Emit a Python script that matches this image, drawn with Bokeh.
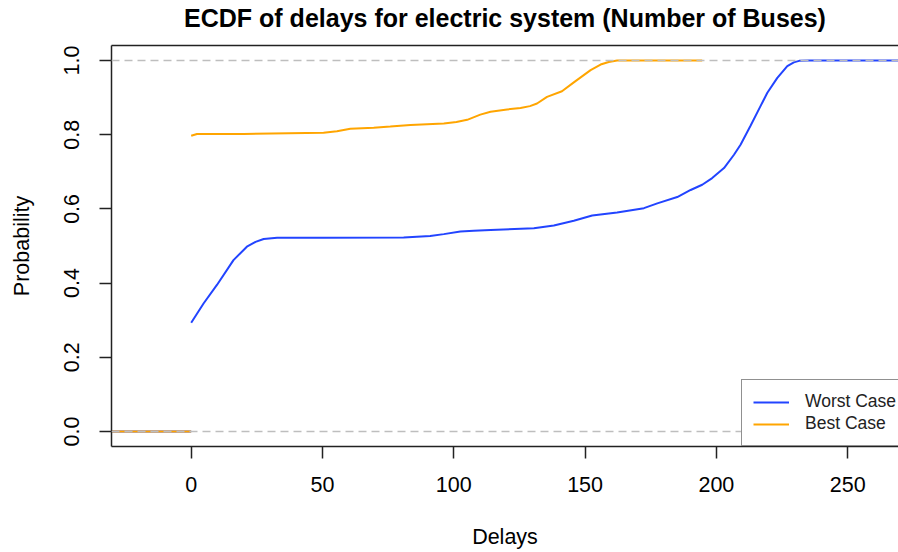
from bokeh.plotting import figure
from bokeh.models import (Range1d, FixedTicker, LinearAxis, Span, Legend, LegendItem)
from bokeh.embed import file_html
from bokeh.resources import INLINE

# ---- data ----
worst_x = [0, 4.7, 9.8, 16.1, 21.2, 24.5, 27.6, 32.7, 50, 80.9, 91, 96.2, 102.5,
           107.6, 114, 130.5, 138.1, 145.7, 152.7, 162.2, 172.4, 177.5, 185.1,
           190.2, 194.6, 198.4, 202.9, 206.7, 209.2, 213.0, 216.8, 219.4, 223.2,
           227.0, 229.5, 231.5, 235, 280]
worst_y = [0.293, 0.345, 0.395, 0.462, 0.498, 0.511, 0.519, 0.522, 0.522, 0.523,
           0.527, 0.532, 0.539, 0.541, 0.543, 0.548, 0.555, 0.568, 0.582, 0.590,
           0.602, 0.615, 0.632, 0.651, 0.665, 0.683, 0.710, 0.746, 0.773, 0.824,
           0.877, 0.913, 0.953, 0.985, 0.995, 0.999, 1.0, 1.0]

best_x = [0, 2.2, 20, 50.4, 55.5, 60.6, 69.5, 75.8, 83.5, 96.2, 101, 105.1, 110.1,
          114, 120.3, 125.4, 129, 131.7, 135.5, 141.2, 145.7, 152.1, 155.9, 159,
          162.2, 194.6]
best_y = [0.797, 0.802, 0.802, 0.805, 0.809, 0.816, 0.819, 0.822, 0.826, 0.830,
          0.834, 0.840, 0.854, 0.862, 0.868, 0.872, 0.877, 0.884, 0.902, 0.917,
          0.941, 0.974, 0.989, 0.996, 1.0, 1.0]

# ECDF is 0 to the left of the smallest delay
zero_x = [-40, 0]
zero_y = [0, 0]

ref_levels = [0, 1]
x_ticks = [0, 50, 100, 150, 200, 250]
y_ticks = [0, 0.2, 0.4, 0.6, 0.8, 1.0]
y_tick_labels = ["0.0", "0.2", "0.4", "0.6", "0.8", "1.0"]

title_text = "ECDF of delays for electric system (Number of Buses)"
series_names = ["Worst Case", "Best Case"]
series_colors = ["#2244ff", "#ffa500"]

FONT = "Liberation Sans"

p = figure(width=898, height=552, output_backend="svg", toolbar_location=None,
           x_range=Range1d(-30.35, 269.35), y_range=Range1d(-0.0404, 1.0404),
           min_border_left=111, min_border_right=0, min_border_top=45,
           min_border_bottom=106)
p.outline_line_color = None
p.xgrid.visible = False
p.ygrid.visible = False
p.background_fill_color = "white"
p.border_fill_color = "white"

p.title.text = title_text
p.title.text_font = FONT
p.title.text_font_size = "25px"
p.title.text_font_style = "bold"
p.title.align = "center"
p.title.text_color = "black"
p.title.standoff = 0
p.title.vertical_align = "top"
p.title.padding = dict(left=0, right=0, top=0, bottom=12)

# axes
for ax in (p.xaxis[0], p.yaxis[0]):
    ax.axis_line_color = "#222222"
    ax.axis_line_width = 1.5
    ax.major_tick_line_color = "#222222"
    ax.major_tick_line_width = 1.5
    ax.major_tick_out = 12
    ax.major_tick_in = 0
    ax.minor_tick_line_color = None
    ax.major_label_text_font = FONT
    ax.major_label_text_font_size = "21.5px"
    ax.major_label_text_color = "black"
    ax.axis_label_text_font = FONT
    ax.axis_label_text_font_size = "21.5px"
    ax.axis_label_text_font_style = "normal"
    ax.axis_label_text_color = "black"

p.xaxis.ticker = FixedTicker(ticks=x_ticks)
p.xaxis.axis_label = "Delays"
p.xaxis.major_label_standoff = 18
p.xaxis.axis_label_standoff = 30

p.yaxis.ticker = FixedTicker(ticks=y_ticks)
p.yaxis.major_label_overrides = {t: l for t, l in zip(y_ticks, y_tick_labels)}
p.yaxis.major_label_orientation = "vertical"
p.yaxis.axis_label = "Probability"
p.yaxis.major_label_standoff = 20
p.yaxis.axis_label_standoff = 28

top_axis = LinearAxis(ticker=FixedTicker(ticks=[]), axis_line_color="#222222",
                      axis_line_width=1.5, major_tick_line_color=None,
                      minor_tick_line_color=None, major_label_text_font_size="0px",
                      major_tick_out=0, major_tick_in=0, major_label_standoff=0,
                      axis_label_standoff=0)
p.add_layout(top_axis, "above")

# ECDF lines
r_zero_w = p.line(zero_x, zero_y, line_color=series_colors[0], line_width=2)
r_zero_b = p.line(zero_x, zero_y, line_color=series_colors[1], line_width=2)
r_worst = p.line(worst_x, worst_y, line_color=series_colors[0], line_width=2)
r_best = p.line(best_x, best_y, line_color=series_colors[1], line_width=2)

for lv in ref_levels:
    p.add_layout(Span(location=lv, dimension="width", line_color="#bebebe",
                      line_width=1.5, line_dash="8 5"))

legend = Legend(items=[LegendItem(label=series_names[0], renderers=[r_worst]),
                       LegendItem(label=series_names[1], renderers=[r_best])],
                location=(630, 0))
legend.border_line_color = "#222222"
legend.border_line_width = 1.5
legend.background_fill_color = "white"
legend.background_fill_alpha = 1
legend.padding = 11
legend.margin = 0
legend.spacing = 1
legend.label_height = 20
legend.glyph_height = 20
legend.glyph_width = 36
legend.label_standoff = 16
legend.label_text_font = FONT
legend.label_text_font_size = "17.5px"
legend.label_text_color = "#222222"
p.add_layout(legend, "center")

open("out.html", "w").write(file_html(p, INLINE))
